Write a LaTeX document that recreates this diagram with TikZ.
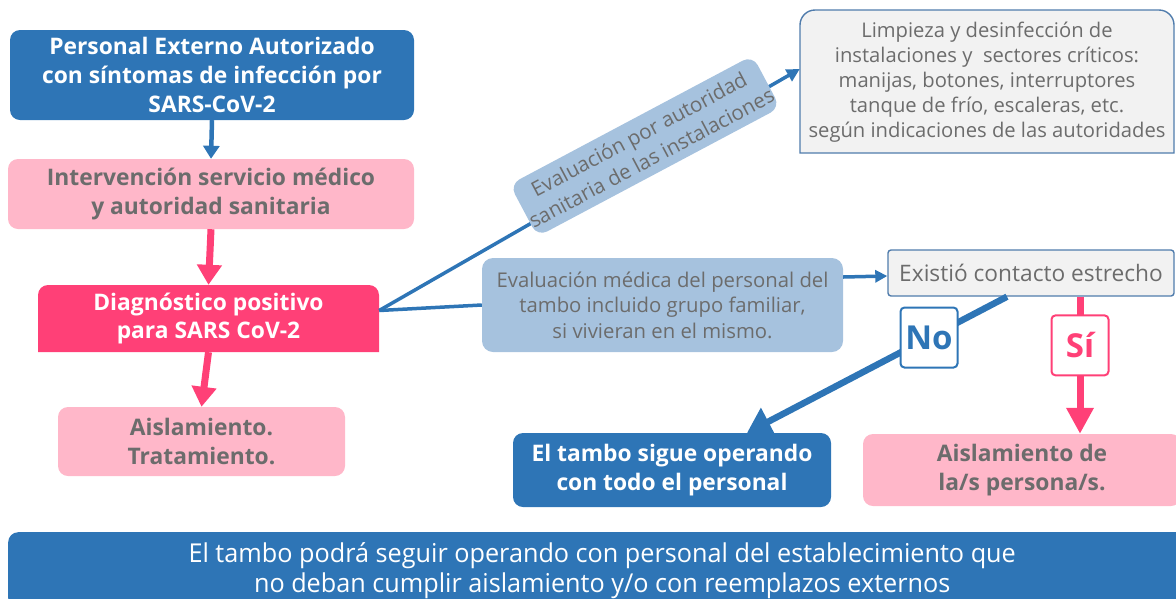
\documentclass[tikz,border=0pt]{standalone}
\usepackage{fontspec}
\setmainfont{Open Sans}
\newfontfamily\narrowfont[FakeStretch=0.97]{Open Sans}
\usetikzlibrary{positioning,arrows.meta}

\definecolor{cblue}{RGB}{46,117,182}
\definecolor{cpink}{RGB}{255,64,119}
\definecolor{clpink}{RGB}{255,183,201}
\definecolor{clblue}{RGB}{166,194,222}
\definecolor{cgray}{RGB}{242,242,242}
\definecolor{cedge}{RGB}{80,124,172}
\definecolor{ctext}{RGB}{108,108,108}

\tikzset{
  box/.style={rectangle, inner sep=0pt, align=center},
  bluebox/.style={box, fill=cblue, rounded corners=10pt, text=white,
    font=\bfseries\fontsize{22.8}{28.8}\selectfont},
  pinkbox/.style={box, fill=clpink, rounded corners=10pt, text=ctext,
    font=\bfseries\fontsize{22.8}{28.8}\selectfont},
  evalbox/.style={box, fill=clblue, rounded corners=11pt, text=ctext,
    font=\fontsize{20.3}{25.5}\selectfont},
  greybox/.style={box, fill=cgray, draw=cedge, line width=1.4pt, text=ctext},
  tagbox/.style={box, fill=white, line width=2pt, rounded corners=4pt,
    minimum width=57pt, minimum height=60pt,
    font=\bfseries\fontsize{33}{33}\selectfont},
  bluearrow/.style={cblue, line width=4.5pt, -{Triangle[width=16pt,length=13pt]}},
  pinkarrow/.style={cpink, line width=7pt, -{Triangle[width=24pt,length=20pt]}},
  thinarrow/.style={cblue, line width=3.5pt},
}

\begin{document}
\begin{tikzpicture}[x=1pt, y=-1pt]
\useasboundingbox (0,0) rectangle (1176,598);

% left column
\node[bluebox, minimum width=404pt, minimum height=90pt] (ext) at (212,75)
  {Personal Externo Autorizado\\con síntomas de infección por\\SARS-CoV-2};
\node[pinkbox, minimum width=406pt, minimum height=70pt] (interv) at (211,194)
  {Intervención servicio médico\\y autoridad sanitaria};
\fill[cpink] (38,352) -- (38,295) arc(180:270:10) -- (369,285) arc(270:360:10) -- (379,352) -- cycle;
\node[box, text=white, font=\bfseries\fontsize{22.8}{28.8}\selectfont,
  minimum width=341pt, minimum height=67pt] (diag) at (208.5,318.5)
  {Diagnóstico positivo\\para SARS CoV-2};
\node[pinkbox, minimum width=287pt, minimum height=69pt] (aisl) at (201.5,441.5)
  {Aislamiento.\\Tratamiento.};

\draw[bluearrow] (ext.south) -- (interv.north);
\draw[pinkarrow] (interv.south) -- (diag.north);
\draw[pinkarrow] (diag.south) -- (aisl.north);

% right side
\fill[cgray] (800,153) -- (800,25) arc(180:270:15) -- (1159,10) arc(270:360:15) -- (1174,153) -- cycle;
\draw[cedge, line width=1.4pt] (800,153) -- (800,25) arc(180:270:15) -- (1159,10) arc(270:360:15) -- (1174,153) -- cycle;
\node[box, text=ctext, font=\fontsize{20.2}{25}\selectfont,
  minimum width=374pt, minimum height=143pt] (limp) at (987,82)
  {Limpieza y desinfección de\\instalaciones y~ sectores críticos:\\manijas, botones, interruptores\\tanque de frío, escaleras, etc.\\según indicaciones de las autoridades};

\node[evalbox, minimum width=361pt, minimum height=94pt] (medica) at (662.5,305)
  {Evaluación médica del personal del\\tambo incluido grupo familiar,\\si vivieran en el mismo.};
\node[greybox, rounded corners=3pt, minimum width=286pt, minimum height=46pt,
  font=\fontsize{22.7}{26}\selectfont] (exist) at (1031,273)
  {Existió contacto estrecho};

\node[bluebox, minimum width=318pt, minimum height=74pt] (tambo) at (672,470)
  {El tambo sigue operando\\con todo el personal};
\node[pinkbox, minimum width=318pt, minimum height=72pt] (aisl2) at (1022,470)
  {Aislamiento de\\la/s persona/s.};

\coordinate (dout) at ([yshift=8pt]diag.east);
\coordinate (limpin) at ([yshift=13pt]limp.west);
\draw[thinarrow, -{Triangle[width=13pt,length=13pt]}] (dout) -- (limpin);
\draw[thinarrow] (dout) -- (medica.west);
\node[evalbox, rotate=28, minimum width=275pt, minimum height=59pt,
  font=\fontsize{20.6}{26.5}\selectfont] (autor) at (645,146)
  {Evaluación por autoridad\\sanitaria de las instalaciones};

\draw[thinarrow, -{Triangle[width=12pt,length=12pt]}] ([yshift=28pt]medica.east) -- ([yshift=-3pt]exist.west);

\coordinate (exno) at ([xshift=-24pt]exist.south);
\coordinate (exsi) at ([xshift=49pt]exist.south);
\draw[cblue, line width=6.5pt, -{Triangle[width=30pt,length=24pt]}] (exno) -- ([xshift=75pt]tambo.north)
  node[tagbox, draw=cblue, text=cblue, pos=0.3] (no) {No};
\draw[pinkarrow, -{Triangle[width=26pt,length=26pt]}] (exsi) -- (exsi |- aisl2.north)
  node[tagbox, draw=cpink, text=cpink, pos=0.355] (si) {Sí};

% bottom bar
\node[box, fill=cblue, rounded corners=10pt, text=white, minimum width=1188pt, minimum height=76pt,
  anchor=north west, font=\narrowfont\fontsize{26}{30}\selectfont] (final) at (8,532)
  {El tambo podrá seguir operando con personal del establecimiento que\\no deban cumplir aislamiento y/o con reemplazos externos};
\end{tikzpicture}
\end{document}
